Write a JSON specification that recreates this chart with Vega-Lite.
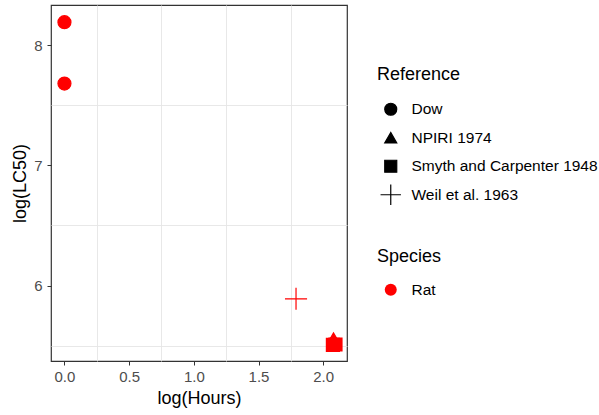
{
  "$schema": "https://vega.github.io/schema/vega-lite/v6.json",
  "width": 296,
  "height": 356,
  "autosize": "none",
  "padding": {"left": 51, "top": 5, "right": 252, "bottom": 54},
  "background": "white",
  "config": {
    "font": "Liberation Sans",
    "view": {"stroke": "#333333", "strokeWidth": 1.2},
    "axis": {
      "gridColor": "#E5E5E5",
      "domain": false,
      "tickColor": "#333333",
      "tickSize": 4,
      "labelColor": "#4D4D4D",
      "labelFontSize": 15,
      "titleFontSize": 18,
      "titleFontWeight": "normal",
      "titleColor": "black",
      "labelFont": "Liberation Sans",
      "titleFont": "Liberation Sans"
    },
    "legend": {
      "titleFontSize": 18,
      "titleFontWeight": "normal",
      "titleColor": "black",
      "labelFontSize": 15.5,
      "labelColor": "black",
      "labelLimit": 0,
      "titleFont": "Liberation Sans",
      "labelFont": "Liberation Sans",
      "padding": 0,
      "titlePadding": 16,
      "rowPadding": 12.5,
      "symbolOffset": 6,
      "labelOffset": 13
    }
  },
  "data": {
    "values": [
      {"Hours": 0, "LC50": 8.19, "Reference": "Dow", "Species": "Rat"},
      {"Hours": 0, "LC50": 7.68, "Reference": "Dow", "Species": "Rat"},
      {"Hours": 1.79, "LC50": 5.89, "Reference": "Weil et al. 1963", "Species": "Rat"},
      {"Hours": 2.08, "LC50": 5.56, "Reference": "NPIRI 1974", "Species": "Rat"},
      {"Hours": 2.075, "LC50": 5.507, "Reference": "Smyth and Carpenter 1948", "Species": "Rat"},
      {"Hours": 2.095, "LC50": 5.51, "Reference": "Smyth and Carpenter 1948", "Species": "Rat"}
    ]
  },
  "layer": [
    {
      "mark": {"type": "point", "opacity": 0},
      "encoding": {
        "x": {
          "field": "Hours", "type": "quantitative",
          "scale": {"domain": [-0.104, 2.184], "nice": false, "zero": false},
          "axis": {"orient": "top", "values": [0.25, 0.75, 1.25, 1.75], "labels": false, "ticks": false, "title": null, "gridWidth": 0.9}
        },
        "y": {
          "field": "LC50", "type": "quantitative",
          "scale": {"domain": [5.373, 8.333], "nice": false, "zero": false},
          "axis": {"orient": "right", "values": [5.5, 6.5, 7.5], "labels": false, "ticks": false, "title": null, "gridWidth": 0.9}
        }
      }
    },
    {
      "mark": {"type": "point", "filled": true, "opacity": 1, "size": 169, "strokeWidth": 1.2},
      "encoding": {
        "x": {
          "field": "Hours", "type": "quantitative",
          "axis": {"orient": "bottom", "values": [0, 0.5, 1, 1.5, 2], "format": ".1f", "title": "log(Hours)", "labelPadding": 4, "titlePadding": 5, "gridWidth": 1.2}
        },
        "y": {
          "field": "LC50", "type": "quantitative",
          "axis": {"orient": "left", "values": [6, 7, 8], "format": "d", "title": "log(LC50)", "labelPadding": 5, "titlePadding": 4, "gridWidth": 1.2}
        },
        "shape": {
          "field": "Reference", "type": "nominal",
          "scale": {
            "domain": ["Dow", "NPIRI 1974", "Smyth and Carpenter 1948", "Weil et al. 1963"],
            "range": ["circle", "triangle-up", "square", "M-1.7,0L1.7,0M0,-1.7L0,1.7"]
          },
          "legend": {
            "orient": "none", "legendX": 326, "legendY": 61,
            "gridAlign": "all", "rowPadding": 2.5, "titlePadding": 17.5,
            "symbolFillColor": "black", "symbolStrokeColor": "black", "symbolStrokeWidth": 1.2,
            "symbolSize": 144
          }
        },
        "color": {
          "field": "Species", "type": "nominal",
          "scale": {"domain": ["Rat"], "range": ["#FF0000"]},
          "legend": {
            "orient": "none", "legendX": 326, "legendY": 243,
            "symbolType": "circle", "symbolSize": 144, "symbolStrokeWidth": 0
          }
        },
        "stroke": {
          "field": "Species", "type": "nominal",
          "scale": {"domain": ["Rat"], "range": ["#FF0000"]},
          "legend": null
        }
      }
    }
  ],
  "resolve": {"axis": {"x": "independent", "y": "independent"}}
}
